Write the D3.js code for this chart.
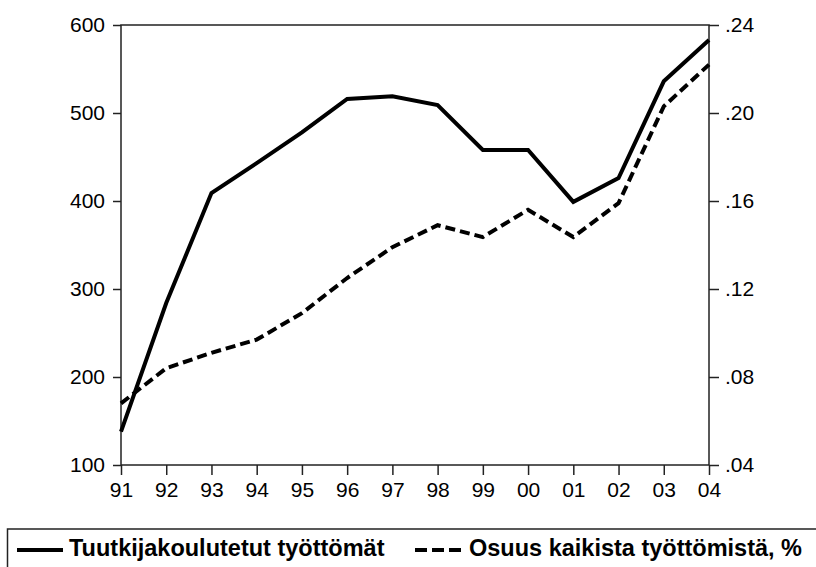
<!DOCTYPE html>
<html>
<head>
<meta charset="utf-8">
<script src="https://cdn.jsdelivr.net/npm/d3@7"></script>
<style>
  html, body { margin: 0; padding: 0; background: #fff; }
  svg { display: block; }
  svg text { font-family: "Liberation Sans", Arial, Helvetica, sans-serif; }
</style>
</head>
<body>
<div id="chart"></div>
<script>
// data
const years = [1991, 1992, 1993, 1994, 1995, 1996, 1997, 1998, 1999, 2000, 2001, 2002, 2003, 2004];
const yearLabels = ["91", "92", "93", "94", "95", "96", "97", "98", "99", "00", "01", "02", "03", "04"];
// Tuutkijakoulutetut työttömät (left axis)
const unemployed = [138, 284, 409, 443, 478, 516, 519, 509, 458, 458, 399, 426, 536, 583];
// Osuus kaikista työttömistä, % (right axis)
const share = [0.068, 0.084, 0.091, 0.097, 0.109, 0.125, 0.139, 0.149, 0.1436, 0.156, 0.1436, 0.159, 0.203, 0.222];
const leftTicks = [100, 200, 300, 400, 500, 600];
const rightTicks = [0.04, 0.08, 0.12, 0.16, 0.20, 0.24];
const seriesNames = ["Tuutkijakoulutetut työttömät", "Osuus kaikista työttömistä, %"];

const width = 816;
const height = 567;
const margin = { top: 25, right: 107, bottom: 102, left: 121 };
const ink = "#000";

const svg = d3.select("#chart")
    .append("svg")
    .attr("width", width)
    .attr("height", height);

const x = d3.scaleLinear()
    .domain([years[0], years[years.length - 1]])
    .range([margin.left, width - margin.right]);

const yLeft = d3.scaleLinear()
    .domain([100, 600])
    .range([height - margin.bottom, margin.top]);

const yRight = d3.scaleLinear()
    .domain([0.04, 0.24])
    .range([height - margin.bottom, margin.top]);

// frame
svg.append("rect")
    .attr("x", margin.left)
    .attr("y", margin.top)
    .attr("width", width - margin.right - margin.left)
    .attr("height", height - margin.bottom - margin.top)
    .attr("fill", "none")
    .attr("stroke", "#222")
    .attr("stroke-width", 1.5);

// axes
const styleAxis = g => {
    g.attr("font-size", null).attr("font-family", null);
    g.select(".domain").remove();
    g.selectAll(".tick line").attr("stroke", "#222").attr("stroke-width", 1.5);
    g.selectAll(".tick text")
        .attr("fill", ink)
        .style("font-size", "21px");
};

svg.append("g")
    .attr("transform", `translate(0,${height - margin.bottom})`)
    .call(d3.axisBottom(x)
        .tickValues(years)
        .tickSize(10)
        .tickPadding(7)
        .tickFormat((d, i) => yearLabels[i]))
    .call(styleAxis);

svg.append("g")
    .attr("transform", `translate(${margin.left},0)`)
    .call(d3.axisLeft(yLeft)
        .tickValues(leftTicks)
        .tickSize(8)
        .tickPadding(8)
        .tickFormat(d3.format("d")))
    .call(styleAxis);

svg.append("g")
    .attr("transform", `translate(${width - margin.right},0)`)
    .call(d3.axisRight(yRight)
        .tickValues(rightTicks)
        .tickSize(10)
        .tickPadding(6)
        .tickFormat(d => d3.format(".2f")(d).replace(/^0/, "")))
    .call(styleAxis);

// lines
const solidLine = d3.line()
    .x((d, i) => x(years[i]))
    .y(d => yLeft(d));

const dashedLine = d3.line()
    .x((d, i) => x(years[i]))
    .y(d => yRight(d));

svg.append("path")
    .datum(unemployed)
    .attr("d", solidLine)
    .attr("fill", "none")
    .attr("stroke", ink)
    .attr("stroke-width", 4)
    .attr("stroke-linejoin", "miter");

svg.append("path")
    .datum(share)
    .attr("d", dashedLine)
    .attr("fill", "none")
    .attr("stroke", ink)
    .attr("stroke-width", 4)
    .attr("stroke-dasharray", "10,5");

// legend
const legend = svg.append("g");

legend.append("rect")
    .attr("x", 7.5)
    .attr("y", 529)
    .attr("width", 830)
    .attr("height", 60)
    .attr("fill", "none")
    .attr("stroke", "#222")
    .attr("stroke-width", 1.5);

const legendItems = [
    { name: seriesNames[0], x0: 17, x1: 63, dash: null, tx: 69 },
    { name: seriesNames[1], x0: 415, x1: 463, dash: "12,5", tx: 469 }
];

legendItems.forEach(item => {
    legend.append("line")
        .attr("x1", item.x0)
        .attr("x2", item.x1)
        .attr("y1", 550)
        .attr("y2", 550)
        .attr("stroke", ink)
        .attr("stroke-width", 4)
        .attr("stroke-dasharray", item.dash);
    legend.append("text")
        .attr("x", item.tx)
        .attr("y", 556)
        .style("font-size", "23.5px")
        .attr("font-weight", "bold")
        .attr("fill", ink)
        .text(item.name);
});
</script>
</body>
</html>
